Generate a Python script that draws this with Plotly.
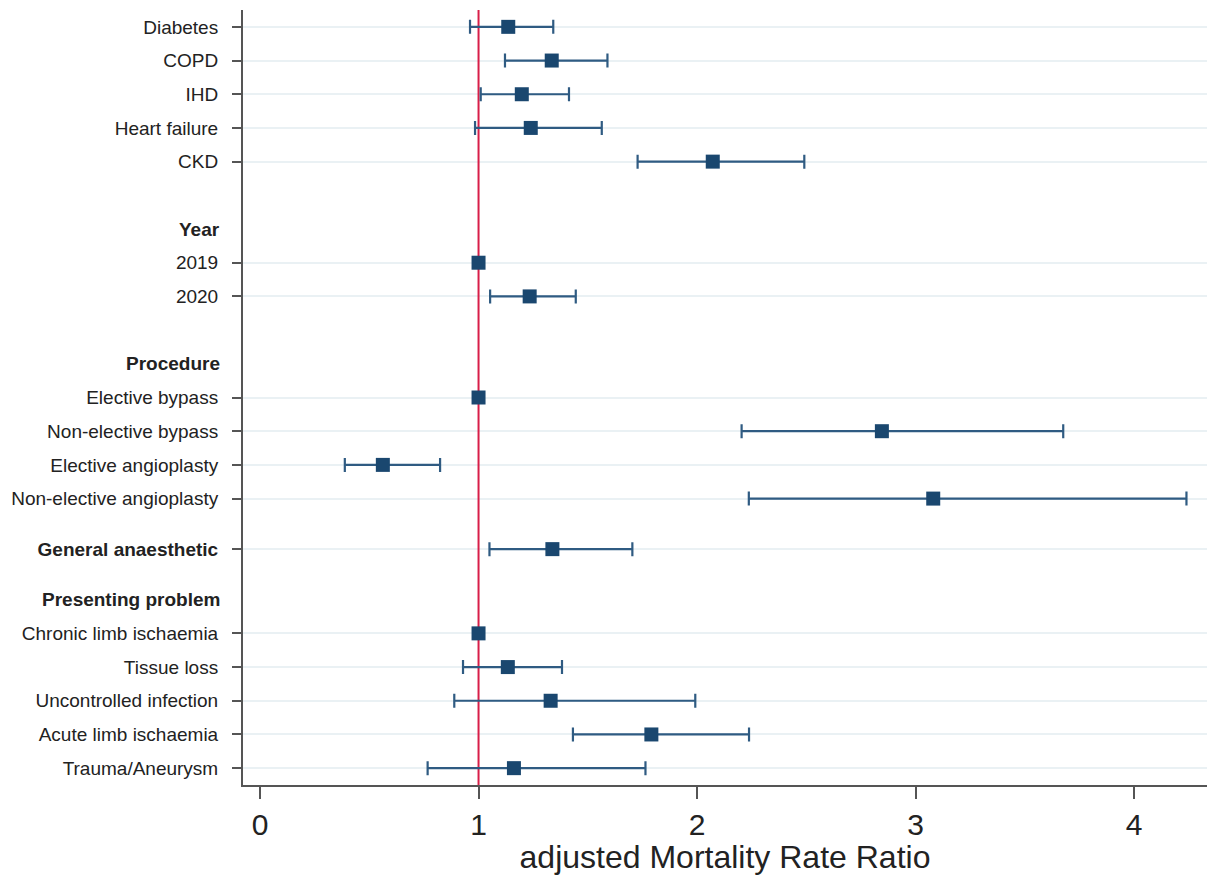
import plotly.graph_objects as go

# ---------------- data ----------------
labels = ["Diabetes", "COPD", "IHD", "Heart failure", "CKD",
          "2019", "2020",
          "Elective bypass", "Non-elective bypass", "Elective angioplasty", "Non-elective angioplasty",
          "General anaesthetic",
          "Chronic limb ischaemia", "Tissue loss", "Uncontrolled infection",
          "Acute limb ischaemia", "Trauma/Aneurysm"]
row_pos = [0, 1, 2, 3, 4, 7, 8, 11, 12, 13, 14, 15.5, 18, 19, 20, 21, 22]
bold_rows = ["General anaesthetic"]

estimate = [1.136, 1.335, 1.198, 1.239, 2.072,
            1.0, 1.234,
            1.0, 2.846, 0.562, 3.081,
            1.338,
            1.0, 1.134, 1.330, 1.791, 1.162]
ci_low = [0.961, 1.121, 1.010, 0.984, 1.728,
          None, 1.053,
          None, 2.204, 0.388, 2.237,
          1.050,
          None, 0.929, 0.889, 1.432, 0.767]
ci_high = [1.342, 1.590, 1.414, 1.564, 2.491,
           None, 1.445,
           None, 3.676, 0.824, 4.240,
           1.704,
           None, 1.382, 1.992, 2.238, 1.764]

headers = ["Year", "Procedure", "Presenting problem"]
header_pos = [6, 10, 17]

x_ticks = [0, 1, 2, 3, 4]
ref_value = 1
x_title = "adjusted Mortality Rate Ratio"

x_range = [-0.078, 4.334]
y_range = [22.5, -0.5]

# ---------------- styling ----------------
FONT = "Liberation Sans, Arial, sans-serif"
NAVY = "#1a476f"
BAR = "#2f5b82"
AXIS = "#555555"
GRID = "#eaf1f4"
RED = "#d81e48"
TXT = "#222222"

fig = go.Figure()

# reference line (drawn first: above grid, below data)
fig.add_trace(go.Scatter(
    x=[ref_value, ref_value], y=[max(y_range), min(y_range)],
    mode="lines", line=dict(color=RED, width=2),
    hoverinfo="skip", showlegend=False, cliponaxis=True))

# estimates with confidence intervals
ci_idx = [i for i in range(len(labels)) if ci_low[i] is not None]
fig.add_trace(go.Scatter(
    x=[estimate[i] for i in ci_idx],
    y=[row_pos[i] for i in ci_idx],
    mode="markers",
    marker=dict(symbol="square", size=14, color=NAVY),
    error_x=dict(type="data", symmetric=False,
                 array=[ci_high[i] - estimate[i] for i in ci_idx],
                 arrayminus=[estimate[i] - ci_low[i] for i in ci_idx],
                 color=BAR, thickness=2.2, width=7),
    hoverinfo="skip", showlegend=False))

# reference categories (no CI)
ref_idx = [i for i in range(len(labels)) if ci_low[i] is None]
fig.add_trace(go.Scatter(
    x=[estimate[i] for i in ref_idx],
    y=[row_pos[i] for i in ref_idx],
    mode="markers",
    marker=dict(symbol="square", size=14, color=NAVY),
    hoverinfo="skip", showlegend=False))

ticktext = [f"<b>{l}</b>" if l in bold_rows else l for l in labels]

# header annotations (bold, no tick)
for h, p in zip(headers, header_pos):
    fig.add_annotation(x=0, xref="paper", y=p, yref="y", text=f"<b>{h}</b>",
                       showarrow=False, xanchor="right", yanchor="middle",
                       xshift=-21, font=dict(family=FONT, size=19, color=TXT))

fig.update_layout(
    width=1214, height=875,
    margin=dict(l=243, r=7, t=10, b=90),
    paper_bgcolor="white", plot_bgcolor="white",
    font=dict(family=FONT, color=TXT),
    xaxis=dict(range=x_range, tickvals=x_ticks, ticktext=[str(v) for v in x_ticks],
               showgrid=False, zeroline=False, automargin=False,
               showline=True, linecolor=AXIS, linewidth=2,
               ticks="outside", ticklen=12, tickwidth=2, tickcolor=AXIS,
               tickfont=dict(size=30, family=FONT, color=TXT),
               title=dict(text=x_title, font=dict(size=32, family=FONT, color=TXT), standoff=6)),
    yaxis=dict(range=y_range, tickvals=row_pos, ticktext=ticktext,
               showgrid=True, gridcolor=GRID, gridwidth=2, zeroline=False, automargin=False,
               showline=True, linecolor=AXIS, linewidth=2,
               ticks="outside", ticklen=9, tickwidth=2, tickcolor=AXIS,
               ticklabelstandoff=10,
               tickfont=dict(size=19, family=FONT, color=TXT)),
)

fig.write_html("out.html")
